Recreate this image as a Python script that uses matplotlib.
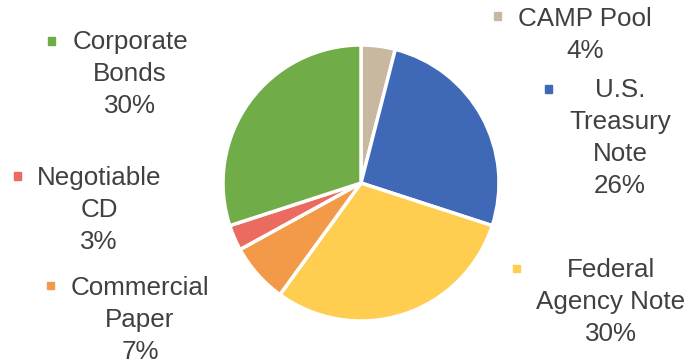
import matplotlib.pyplot as plt

# Данные диаграммы
categories = ["CAMP Pool", "U.S.\nTreasury\nNote", "Federal\nAgency Note",
              "Commercial\nPaper", "Negotiable\nCD", "Corporate\nBonds"]
shares = [4, 26, 30, 7, 3, 30]
colors = ["#C9B8A0", "#3F69B6", "#FFCD4F", "#F39A48", "#EC6B61", "#70AC47"]

# Позиции подписей (пиксели): центр текста, базовая линия первой строки, маркер
label_pos = [(585, 27), (620, 100), (611, 279), (140, 297), (99, 187), (130, 51)]
marker_pos = [(497, 16), (548, 89), (516, 268), (50, 285), (17, 176), (51, 41)]
LINE_STEP = 31

W, H = 686, 360
plt.rcParams["font.family"] = ["Liberation Sans", "DejaVu Sans"]

fig = plt.figure(figsize=(W / 100, H / 100), dpi=100)
cx, cy, r = 361, 183, 138
ax = fig.add_axes([(cx - r) / W, (H - cy - r) / H, 2 * r / W, 2 * r / H])

ax.pie(
    shares,
    colors=colors,
    startangle=90,
    counterclock=False,
    wedgeprops=dict(edgecolor="white", linewidth=2.5),
)
ax.set_xlim(-1, 1)
ax.set_ylim(-1, 1)
ax.axis("off")

for name, val, (tx, ty), (mx, my), c in zip(categories, shares, label_pos, marker_pos, colors):
    text = f"{name}\n{val}%"
    # va="baseline" выравнивает по последней строке
    last_y = ty + (text.count("\n")) * LINE_STEP
    fig.text(
        tx / W, 1 - last_y / H, text,
        ha="center", va="baseline", multialignment="center",
        fontsize=18.7, color="#404040", linespacing=1.42,
    )
    fig.patches.append(plt.Rectangle(
        ((mx - 3.5) / W, 1 - (my + 3.5) / H), 7 / W, 7 / H,
        color=c, transform=fig.transFigure, figure=fig,
    ))

fig.savefig("out.png", dpi=100)
